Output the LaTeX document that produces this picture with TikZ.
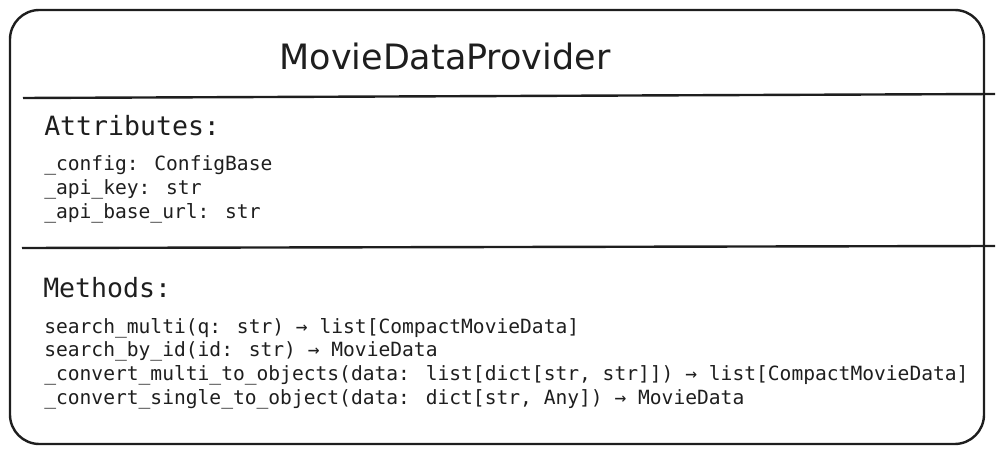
\documentclass[tikz,border=0pt]{standalone}
\usepackage{fontspec}
\setmainfont{DejaVu Sans}
\newfontfamily\monofont{DejaVu Sans Mono}
\definecolor{ink}{HTML}{1E1E1E}
\begin{document}
\begin{tikzpicture}[x=0.75pt,y=-0.75pt,
  frame/.style={draw=ink,line width=1.8pt,rounded corners=22pt},
  divider/.style={draw=ink,line width=1.8pt},
  titletext/.style={anchor=base,inner sep=0pt,text=ink,font=\fontsize{26.2}{30}\selectfont},
  heading/.style={anchor=base west,inner sep=0pt,text=ink,font=\monofont\fontsize{19.9}{24}\selectfont},
  member/.style={anchor=base west,inner sep=0pt,text=ink,font=\monofont\fontsize{14.7}{18}\selectfont}]
\useasboundingbox (0,0) rectangle (1004,456);
\draw[frame] (10,10) rectangle (984,444);
\coordinate (d1a) at (23,98);
\coordinate (d1b) at (995,94);
\coordinate (d2a) at (22,248);
\coordinate (d2b) at (995,246);
\draw[divider] (d1a) -- (d1b);
\draw[divider] (d2a) -- (d2b);
\node[titletext] (title) at (445,70) {MovieDataProvider};
\node[heading] (attr) at (44,136) {Attributes:};
\node[member] (a1) at (44,171) {\_config: ConfigBase};
\node[member] (a2) at (44,195) {\_api\_key: str};
\node[member] (a3) at (44,219) {\_api\_base\_url: str};
\node[heading] (meth) at (43,297) {Methods:};
\node[member] (m1) at (44,333) {search\_multi(q: str) → list[CompactMovieData]};
\node[member] (m2) at (44,356) {search\_by\_id(id: str) → MovieData};
\node[member] (m3) at (44,380) {\_convert\_multi\_to\_objects(data: list[dict[str, str]]) → list[CompactMovieData]};
\node[member] (m4) at (44,404) {\_convert\_single\_to\_object(data: dict[str, Any]) → MovieData};
\end{tikzpicture}
\end{document}
